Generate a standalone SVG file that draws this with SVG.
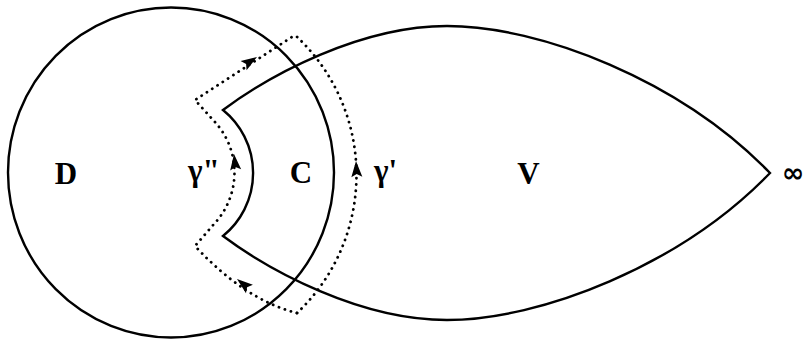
<svg xmlns="http://www.w3.org/2000/svg" width="805" height="339" viewBox="0 0 805 339">
<style>
.solid{fill:none;stroke:#000;stroke-width:2.4}
.dot{fill:none;stroke:#000;stroke-width:2.8;stroke-linecap:round;stroke-dasharray:0.1 6.2}
.lbl{font-family:"Liberation Serif","Times New Roman",serif;font-weight:bold;font-size:31px;fill:#000}
.inf{font-family:"DejaVu Sans","Liberation Sans",sans-serif;font-weight:bold;font-size:27px;fill:#000}
</style>
<defs>
<path id="ah" d="M0,0 L-16,-5.5 L-13,0 L-16,5.5 Z" fill="#000"/>
</defs>
<rect width="805" height="339" fill="#fff"/>
<g id="D">
<ellipse class="solid" cx="171" cy="172.5" rx="163" ry="165"/>
<text class="lbl" x="66" y="184" text-anchor="middle">D</text>
</g>
<g id="V">
<path class="solid" d="M223,110 C270,75 360,26 447,26 C540,26 680,80 770,173 C680,266 540,320 447,320 C360,320 270,271 223,236 A81 81 0 0 0 223,110 Z"/>
<text class="lbl" x="528.5" y="184" text-anchor="middle">V</text>
</g>
<g id="C">
<text class="lbl" x="301" y="183" text-anchor="middle">C</text>
</g>
<g id="infinity">
<text class="inf" x="782" y="182">∞</text>
</g>
<g id="connectors">
<g id="gamma1">
<path class="dot" d="M297,313 A190 190 0 0 0 295,35"/>
<use href="#ah" transform="translate(356,161) rotate(-93)"/>
<text class="lbl" x="374" y="181">γ'</text>
</g>
<g id="gamma2">
<path class="dot" d="M297,313 Q245,300 195,246 L214,224 A75 75 0 0 0 214,121 L195,100 L295,35"/>
<use href="#ah" transform="translate(237,279) rotate(-141)"/>
<use href="#ah" transform="translate(234,154) rotate(-96)"/>
<use href="#ah" transform="translate(257,57) rotate(-33)"/>
<text class="lbl" x="188" y="181">γ"</text>
</g>
</g>
</svg>
